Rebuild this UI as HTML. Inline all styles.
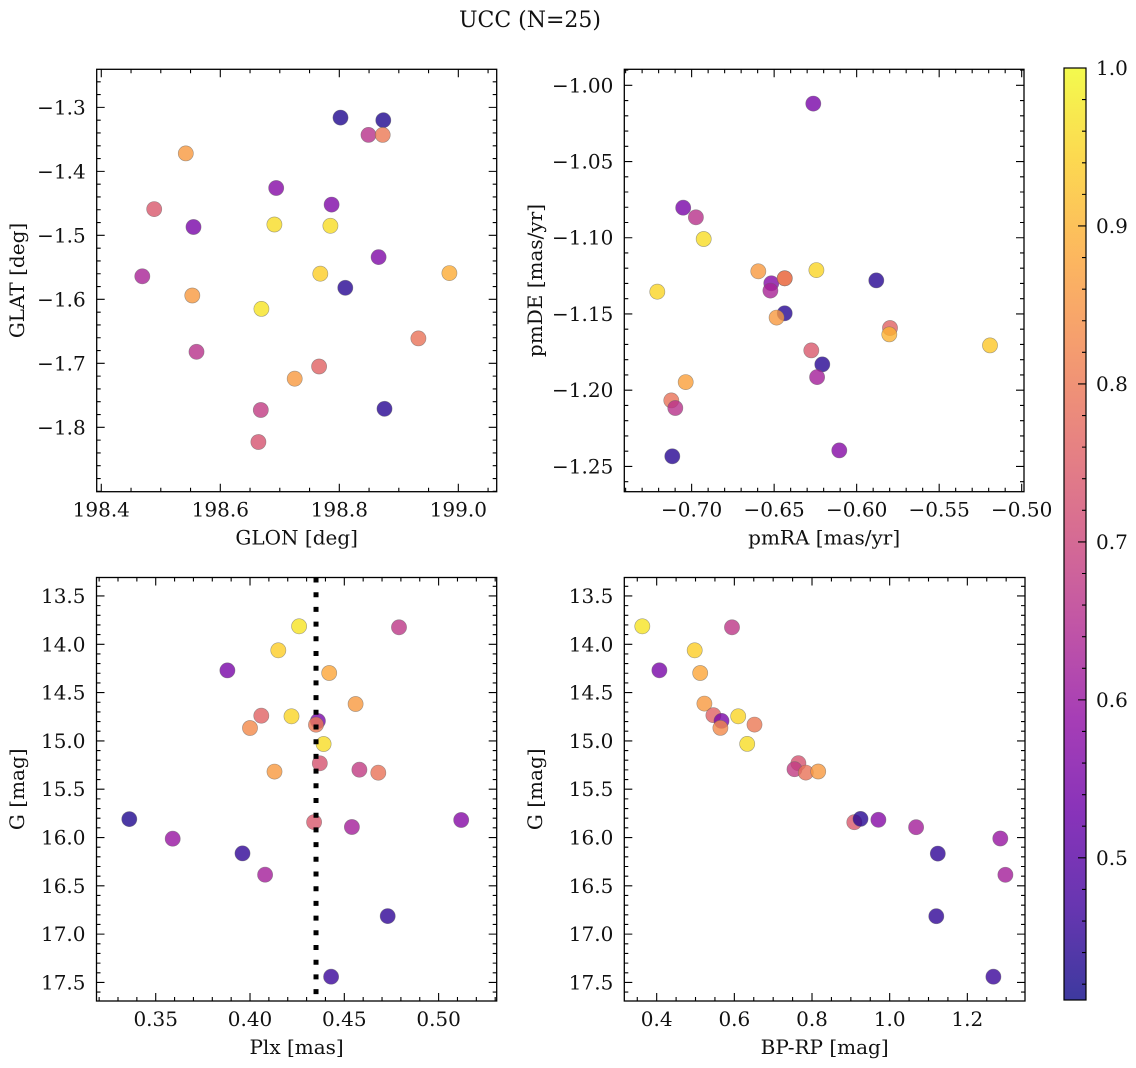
<!DOCTYPE html>
<html><head><meta charset="utf-8"><style>
html,body{margin:0;padding:0;background:#fff;}
svg{display:block;font-family:"DejaVu Serif","Liberation Serif",serif;}
</style></head><body>
<svg id="fig" width="1136" height="1068" viewBox="0 0 1136 1068">
<defs><linearGradient id="cbgrad" x1="0" y1="1" x2="0" y2="0"></linearGradient></defs>
<text x="530" y="27" font-size="22" text-anchor="middle" fill="#111">UCC (N=25)</text>
</svg>
<script>
// ---- data ----
const glon = [198.802,198.874,198.849,198.873,198.542,198.694,198.787,198.489,198.555,198.691,198.785,198.866,198.469,198.768,198.985,198.810,198.553,198.669,198.560,198.933,198.725,198.766,198.668,198.876,198.664];
const glat = [-1.316,-1.320,-1.343,-1.343,-1.372,-1.426,-1.452,-1.459,-1.487,-1.483,-1.485,-1.534,-1.564,-1.560,-1.559,-1.582,-1.594,-1.615,-1.682,-1.661,-1.724,-1.705,-1.773,-1.771,-1.823];
const probP1 = [0.43,0.43,0.66,0.80,0.86,0.57,0.56,0.74,0.55,0.96,0.96,0.56,0.63,0.94,0.89,0.44,0.86,0.97,0.66,0.79,0.86,0.76,0.68,0.44,0.73];

const pmra = [-0.6263,-0.7051,-0.6974,-0.6927,-0.6596,-0.6244,-0.7208,-0.5881,-0.6436,-0.6517,-0.6523,-0.6436,-0.6485,-0.5798,-0.5802,-0.6275,-0.6208,-0.5192,-0.6240,-0.7036,-0.7123,-0.7099,-0.7117,-0.6105,-0.6436];
const pmde = [-1.012,-1.0803,-1.0866,-1.1008,-1.1220,-1.1212,-1.1354,-1.1280,-1.1266,-1.1299,-1.1347,-1.1496,-1.1524,-1.1592,-1.1634,-1.1739,-1.1831,-1.1706,-1.1914,-1.1947,-1.2067,-1.2117,-1.2434,-1.2395,-1.1266];
const probP2 = [0.55,0.55,0.66,0.96,0.86,0.95,0.95,0.44,0.80,0.57,0.63,0.44,0.86,0.76,0.90,0.74,0.44,0.93,0.62,0.87,0.79,0.66,0.44,0.57,0.80];

const plx = [0.426,0.479,0.415,0.388,0.442,0.456,0.406,0.422,0.436,0.435,0.400,0.439,0.437,0.413,0.458,0.468,0.336,0.434,0.454,0.512,0.359,0.396,0.408,0.473,0.443];
const gmagP3 = [13.814,13.824,14.062,14.270,14.297,14.618,14.739,14.746,14.794,14.832,14.867,15.032,15.232,15.318,15.298,15.329,15.809,15.840,15.891,15.819,16.012,16.164,16.385,16.813,17.441];
const probP3 = [0.97,0.67,0.94,0.55,0.88,0.86,0.76,0.95,0.55,0.80,0.83,0.96,0.73,0.86,0.68,0.79,0.43,0.74,0.62,0.57,0.60,0.45,0.62,0.45,0.46];
const plxMean = [0.435];

const bprp = [0.363,0.594,0.407,0.498,0.512,0.523,0.546,0.567,0.564,0.610,0.652,0.633,0.765,0.755,0.784,0.816,0.909,0.925,0.971,1.068,1.124,1.285,1.298,1.120,1.267];
const gmagP4 = [13.814,13.824,14.269,14.062,14.297,14.614,14.734,14.793,14.866,14.745,14.831,15.031,15.231,15.293,15.328,15.317,15.841,15.807,15.817,15.893,16.166,16.010,16.386,16.814,17.441];
const probP4 = [0.97,0.67,0.55,0.94,0.88,0.86,0.76,0.55,0.83,0.95,0.80,0.96,0.73,0.68,0.79,0.86,0.74,0.44,0.57,0.62,0.45,0.60,0.62,0.45,0.46];

// ---- tick labels ----
const p1XTicks = [198.4,198.6,198.8,199.0];
const p1YTicks = [-1.3,-1.4,-1.5,-1.6,-1.7,-1.8];
const p2XTicks = [-0.70,-0.65,-0.60,-0.55,-0.50];
const p2YTicks = [-1.00,-1.05,-1.10,-1.15,-1.20,-1.25];
const p3XTicks = [0.35,0.40,0.45,0.50];
const gTicks = [13.5,14.0,14.5,15.0,15.5,16.0,16.5,17.0,17.5];
const p4XTicks = [0.4,0.6,0.8,1.0,1.2];
const cbTicks = [0.5,0.6,0.7,0.8,0.9,1.0];

const NS = "http://www.w3.org/2000/svg";
const svg = document.getElementById('fig');
const FS = 20;
function el(tag, attrs, parent){ const e=document.createElementNS(NS,tag); for(const k in attrs) e.setAttribute(k,attrs[k]); (parent||svg).appendChild(e); return e; }

const plasma = [[13,8,135],[65,4,157],[106,0,168],[143,13,164],[177,42,144],[204,71,120],[225,100,98],[242,132,75],[252,166,54],[252,206,37],[240,249,33]];
const VMIN=0.41, VMAX=1.0;
function cmap(v){
  let t=(v-VMIN)/(VMAX-VMIN); t=Math.max(0,Math.min(1,t));
  const f=t*10, i=Math.min(9,Math.floor(f)), r=f-i;
  const a=plasma[i], b=plasma[i+1];
  return 'rgb('+[0,1,2].map(k=>Math.round(a[k]+(b[k]-a[k])*r)).join(',')+')';
}
function fmt(v,d){ const s=Math.abs(v).toFixed(d); return (v<0?'\u2212':'')+s; }

function panel(cfg){
  const {name,x0,x1,y0,y1,xlim,ylim,xt,yt,xd,yd,xminor,yminor,xs,ys,cs,xlabel,ylabel,ylabX} = cfg;
  const g = el('g',{});
  
  
  const sx = v => x0 + (v-xlim[0])/(xlim[1]-xlim[0])*(x1-x0);
  const sy = v => y0 + (v-ylim[0])/(ylim[1]-ylim[0])*(y1-y0);
  const pg = el('g',{},g);
  
  
  for(let i=0;i<xs.length;i++){
    const c = el('circle',{cx:sx(xs[i]).toFixed(1),cy:sy(ys[i]).toFixed(1),r:7.6,fill:cmap(cs[i]),'fill-opacity':0.8,stroke:'#666','stroke-opacity':0.6,'stroke-width':0.6},pg);
    
    
  }
  if(cfg.extra) cfg.extra(g,sx,sy);
  const fr = el('rect',{x:x0,y:y0,width:x1-x0,height:y1-y0,fill:'none',stroke:'#000','stroke-width':1.3},g);
  
  
  let d='';
  const xmin=Math.min(xlim[0],xlim[1]), xmax=Math.max(xlim[0],xlim[1]);
  for(let v=Math.ceil(xmin/xminor-1e-6)*xminor; v<=xmax+1e-9; v+=xminor){ const X=sx(v); d+=`M${X},${y1}v-4M${X},${y0}v4`; }
  const ymn=Math.min(ylim[0],ylim[1]), ymx=Math.max(ylim[0],ylim[1]);
  for(let v=Math.ceil(ymn/yminor-1e-6)*yminor; v<=ymx+1e-9; v+=yminor){ const Y=sy(v); d+=`M${x0},${Y}h4M${x1},${Y}h-4`; }
  xt.forEach(v=>{ const X=sx(v); d+=`M${X},${y1}v-8M${X},${y0}v8`; });
  yt.forEach(v=>{ const Y=sy(v); d+=`M${x0},${Y}h8M${x1},${Y}h-8`; });
  el('path',{d:d,stroke:'#000','stroke-width':1.1,fill:'none'},g);
  xt.forEach(v=>{
    const t=el('text',{x:sx(v),y:y1+25,'font-size':FS,'text-anchor':'middle',fill:'#111'},g);
    t.textContent=fmt(v,xd);
    
    
  });
  yt.forEach(v=>{
    const t=el('text',{x:x0-11,y:sy(v)+7,'font-size':FS,'text-anchor':'end',fill:'#111'},g);
    t.textContent=fmt(v,yd);
    
    
  });
  const xl=el('text',{x:(x0+x1)/2,y:y1+53,'font-size':FS,'text-anchor':'middle',fill:'#111'},g);
  xl.textContent=xlabel;
  
  
  const cy=(y0+y1)/2;
  const yl=el('text',{x:ylabX,y:cy,'font-size':FS,'text-anchor':'middle',fill:'#111',transform:`rotate(-90 ${ylabX} ${cy})`},g);
  yl.textContent=ylabel;
  
  
}

panel({name:'glon-glat-panel',x0:96.7,x1:496.7,y0:69.3,y1:491.7,xlim:[198.3923,199.0645],ylim:[-1.2405,-1.9006],
  xt:p1XTicks,yt:p1YTicks,xd:1,yd:1,xminor:0.05,yminor:0.02,xs:glon,ys:glat,cs:probP1,xlabel:'GLON [deg]',ylabel:'GLAT [deg]',ylabX:24});
panel({name:'pm-panel',x0:624.3,x1:1024,y0:69.3,y1:491.7,xlim:[-0.7408,-0.4986],ylim:[-0.9895,-1.2666],
  xt:p2XTicks,yt:p2YTicks,xd:2,yd:2,xminor:0.01,yminor:0.01,xs:pmra,ys:pmde,cs:probP2,xlabel:'pmRA [mas/yr]',ylabel:'pmDE [mas/yr]',ylabX:542});
panel({name:'plx-g-panel',x0:96.5,x1:496.7,y0:577.5,y1:1001,xlim:[0.3186,0.5308],ylim:[13.309,17.692],
  xt:p3XTicks,yt:gTicks,xd:2,yd:1,xminor:0.01,yminor:0.1,xs:plx,ys:gmagP3,cs:probP3,xlabel:'Plx [mas]',ylabel:'G [mag]',ylabX:24,
  extra:(g,sx,sy)=>{
    const X=sx(plxMean[0]);
    const l=el('line',{x1:X,x2:X,y1:577.5,y2:1001,stroke:'#000','stroke-width':5,'stroke-dasharray':'5 9.7'},g);
    
    
  }});
panel({name:'cmd-panel',x0:624.3,x1:1025,y0:577.5,y1:1001,xlim:[0.3166,1.3485],ylim:[13.309,17.692],
  xt:p4XTicks,yt:gTicks,xd:1,yd:1,xminor:0.05,yminor:0.1,xs:bprp,ys:gmagP4,cs:probP4,xlabel:'BP-RP [mag]',ylabel:'G [mag]',ylabX:542});

(function(){
  const bx0=1064,bx1=1086,by0=68,by1=1000;
  const gr=document.getElementById('cbgrad');
  for(let i=0;i<=20;i++){ const v=VMIN+(VMAX-VMIN)*i/20; el('stop',{offset:(i/20),'stop-color':cmap(v),'stop-opacity':0.8},gr); }
  const g=el('g',{});
  
  
  el('rect',{x:bx0,y:by0,width:bx1-bx0,height:by1-by0,fill:'url(#cbgrad)',stroke:'#000','stroke-width':1.2},g);
  const sy=v=>by1-(v-VMIN)/(VMAX-VMIN)*(by1-by0);
  let d='';
  for(let v=0.42; v<=1.0001; v+=0.02){ d+=`M${bx1},${sy(v)}h-4`; }
  cbTicks.forEach(v=>{ d+=`M${bx1},${sy(v)}h-8`; });
  el('path',{d:d,stroke:'#000','stroke-width':1.1},g);
  cbTicks.forEach(v=>{
    const t=el('text',{x:bx1+10,y:sy(v)+7,'font-size':FS,fill:'#111'},g);
    t.textContent=v.toFixed(1);
    
    
  });
})();
</script>
</body></html>
